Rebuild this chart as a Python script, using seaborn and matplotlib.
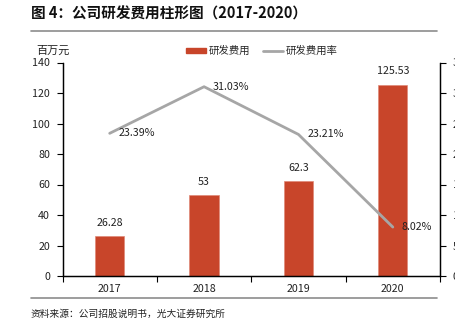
import matplotlib
matplotlib.use("Agg")
import matplotlib.pyplot as plt
import seaborn as sns
import numpy as np
import pandas as pd
from matplotlib.lines import Line2D
from matplotlib.patches import Patch
from matplotlib.ticker import FuncFormatter, FixedLocator

# ---- data ----
years = ["2017", "2018", "2019", "2020"]
rd_expense = [26.28, 53, 62.3, 125.53]          # 百万元
rd_rate = [0.2339, 0.3103, 0.2321, 0.0802]      # 研发费用率
expense_labels = ["26.28", "53", "62.3", "125.53"]
rate_labels = ["23.39%", "31.03%", "23.21%", "8.02%"]

title = "图 4：公司研发费用柱形图（2017-2020）"
unit_label = "百万元"
legend_labels = ["研发费用", "研发费用率"]
source = "资料来源：公司招股说明书，光大证券研究所"

sns.set_theme(style="white")
plt.rcParams["font.family"] = ["Noto Sans CJK SC", "DejaVu Sans"]
plt.rcParams["axes.unicode_minus"] = False

BAR_C = "#C8452A"
LINE_C = "#A6A6A6"

W, H = 455, 333
fig = plt.figure(figsize=(W / 100, H / 100), dpi=100)
ax = fig.add_axes([62.5 / W, 1 - 276 / H, (440 - 62.5) / W, (276 - 62.5) / H])

df = pd.DataFrame({"year": years, "expense": rd_expense, "rate": rd_rate})
sns.barplot(data=df, x="year", y="expense", color=BAR_C, width=0.31,
            saturation=1, ax=ax, edgecolor="#E08A78", linewidth=0.5)
ax.bar_label(ax.containers[0], labels=expense_labels, padding=6,
             fontsize=7.7, color="#222222")

ax.set_ylim(0, 140)
ax.set_yticks(np.arange(0, 141, 20))
ax.set_xlim(-0.5, len(years) - 0.5)
ax.set_xlabel("")
ax.set_ylabel("")

# x ticks at boundaries, labels at centers
pos = np.arange(len(years))
ax.xaxis.set_major_locator(FixedLocator(np.arange(-0.5, len(years), 1.0)))
ax.xaxis.set_minor_locator(FixedLocator(pos))
ax.set_xticklabels([""] * (len(years) + 1))
ax.set_xticklabels(years, minor=True)
ax.tick_params(axis="x", which="major", direction="out", length=4, width=0.8,
               color="black", bottom=True)
ax.tick_params(axis="x", which="minor", length=0, pad=6, labelsize=7.7,
               labelcolor="#222222")
ax.tick_params(axis="y", direction="out", length=4, width=0.8, color="black",
               left=True, pad=5, labelsize=7.7, labelcolor="#222222")

for s in ["left", "bottom", "right"]:
    ax.spines[s].set_color("black")
    ax.spines[s].set_linewidth(0.9)
ax.spines["top"].set_visible(False)

ax2 = ax.twinx()
sns.lineplot(x=pos, y=rd_rate, ax=ax2, color=LINE_C, linewidth=2.0)
ax2.set_ylim(0, 0.35)
ax2.set_yticks(np.arange(0, 0.351, 0.05))
ax2.yaxis.set_major_formatter(FuncFormatter(lambda v, p: f"{v*100:.0f}%"))
ax2.tick_params(axis="y", direction="out", length=4, width=0.8, color="black",
                right=True, pad=5, labelsize=7.7, labelcolor="#222222")
ax2.set_xlim(-0.5, len(years) - 0.5)
for s in ["left", "bottom", "right"]:
    ax2.spines[s].set_color("black")
    ax2.spines[s].set_linewidth(0.9)
ax2.spines["top"].set_visible(False)
ax2.set_ylabel("")

for x, y, lab in zip(pos, rd_rate, rate_labels):
    ax2.annotate(lab, (x, y), xytext=(6.5, 0), textcoords="offset points",
                 ha="left", va="center", fontsize=7.7, color="#222222")

# legend
handles = [Patch(facecolor=BAR_C, edgecolor=BAR_C),
           Line2D([0], [0], color=LINE_C, linewidth=2.0)]
fig.legend(handles, legend_labels, loc="center", ncol=2, frameon=False,
           bbox_to_anchor=(262 / W, 1 - 51 / H), fontsize=7.5,
           handlelength=1.9, handleheight=0.45, handletextpad=0.3,
           columnspacing=1.2)

# title, unit, separator lines, source
fig.text(31 / W, 1 - 14 / H, title, ha="left", va="center",
         fontsize=10.5, fontweight="bold", color="#111111")
fig.add_artist(Line2D([31 / W, 437 / W], [1 - 30.5 / H, 1 - 30.5 / H],
                      color="#8C8C8C", linewidth=1.2))
fig.add_artist(Line2D([31 / W, 437 / W], [1 - 297.5 / H, 1 - 297.5 / H],
                      color="#8C8C8C", linewidth=1.2))
fig.text(36 / W, 1 - 51 / H, unit_label, ha="left", va="center",
         fontsize=8, color="#222222")
fig.text(31 / W, 1 - 314 / H, source, ha="left", va="center",
         fontsize=7, color="#222222")

fig.savefig("out.png", dpi=100)
